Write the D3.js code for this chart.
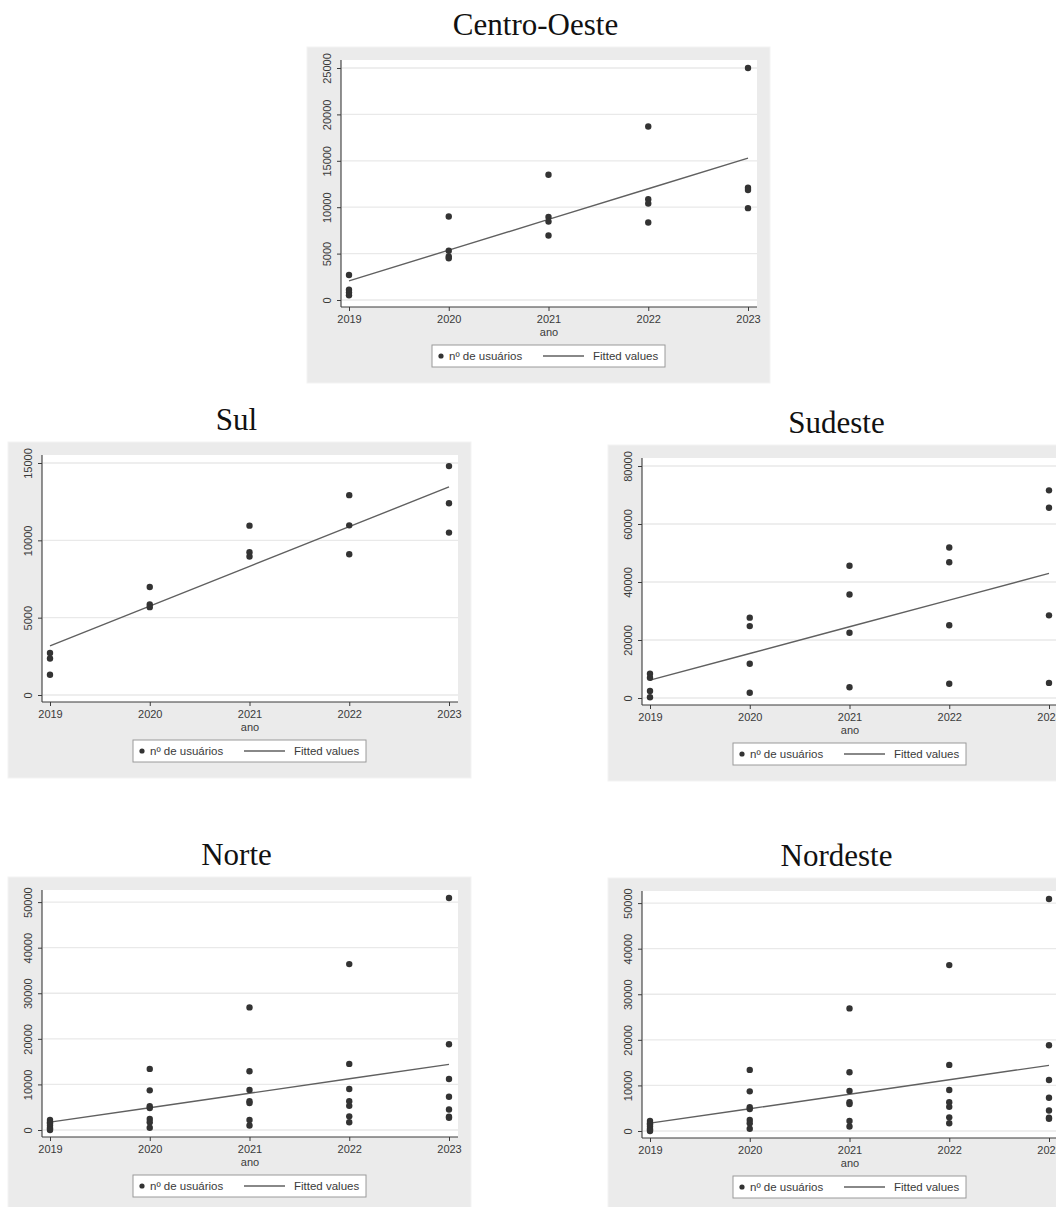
<!DOCTYPE html>
<html>
<head>
<meta charset="utf-8">
<script src="https://cdn.jsdelivr.net/npm/d3@7"></script>
<style>
  html, body { margin: 0; padding: 0; background: #ffffff; }
  svg { display: block; }
</style>
</head>
<body>
<svg id="chart" width="1056" height="1207"></svg>
<script>
// ---------- data ----------
const years = [2019, 2020, 2021, 2022, 2023];
const regionNames = ["Centro-Oeste", "Sul", "Sudeste", "Norte", "Nordeste"];
const xAxisTitle = "ano";
const legendLabels = ["nº de usuários", "Fitted values"];

// users per year (one inner list per year)
const centroOesteUsers = [
  [2700, 1100, 800, 500],
  [9000, 5300, 4700, 4500],
  [13500, 8950, 8450, 6950],
  [18700, 10850, 10400, 8350],
  [25000, 12100, 11850, 9900]
];
const sulUsers = [
  [2720, 2360, 1310],
  [6980, 5850, 5680],
  [10950, 9230, 8950],
  [12920, 10970, 9100],
  [14800, 12400, 10500]
];
const sudesteUsers = [
  [8400, 7000, 2400, 250],
  [27700, 24800, 11800, 1800],
  [45600, 35700, 22500, 3700],
  [51900, 46800, 25100, 4900],
  [71600, 65600, 28500, 5200]
];
const norteUsers = [
  [2200, 1700, 1400, 1000, 500, 200, 0],
  [13400, 8700, 5200, 4800, 2400, 1700, 500],
  [26900, 12900, 8800, 6300, 5900, 2200, 1000],
  [36400, 14500, 9000, 6300, 5300, 3000, 1700],
  [50900, 18800, 11200, 7300, 4500, 2900, 2700]
];
const nordesteUsers = [
  [2200, 1700, 1400, 1000, 500, 200, 0],
  [13400, 8700, 5200, 4800, 2400, 1700, 500],
  [26900, 12900, 8800, 6300, 5900, 2200, 1000],
  [36400, 14500, 9000, 6300, 5300, 3000, 1700],
  [50900, 18800, 11200, 7300, 4500, 2900, 2700]
];

const yTicksCentroOeste = [0, 5000, 10000, 15000, 20000, 25000];
const yTicksSul = [0, 5000, 10000, 15000];
const yTicksSudeste = [0, 20000, 40000, 60000, 80000];
const yTicksNorte = [0, 10000, 20000, 30000, 40000, 50000];
const yTicksNordeste = [0, 10000, 20000, 30000, 40000, 50000];

// ---------- layout ----------
const panels = [
  { name: regionNames[0], users: centroOesteUsers, ticks: yTicksCentroOeste, left: 307, top: 47 },
  { name: regionNames[1], users: sulUsers,         ticks: yTicksSul,         left: 8,   top: 442 },
  { name: regionNames[2], users: sudesteUsers,     ticks: yTicksSudeste,     left: 608, top: 445 },
  { name: regionNames[3], users: norteUsers,       ticks: yTicksNorte,       left: 8,   top: 877 },
  { name: regionNames[4], users: nordesteUsers,    ticks: yTicksNordeste,    left: 608, top: 878 }
];
const PW = 463, PH = 336;

const svg = d3.select("#chart");
const sansFont = "'Liberation Sans', Arial, sans-serif";
const serifFont = "'Liberation Serif', 'Times New Roman', serif";
const ink = "#3a3a3a";

panels.forEach(p => {
  const g = svg.append("g");
  const L = p.left, T = p.top;

  // title
  g.append("text")
    .attr("x", L + PW / 2 - 3).attr("y", T - 12)
    .attr("text-anchor", "middle")
    .attr("font-family", serifFont).attr("font-size", 31)
    .attr("fill", "#111")
    .text(p.name);

  // graph region
  g.append("rect")
    .attr("x", L).attr("y", T).attr("width", PW).attr("height", PH)
    .attr("fill", "#ebebeb").attr("stroke", "#f3f3f3").attr("stroke-width", 1);

  const axisX = L + 34, plotR = L + 450, plotT = T + 13, plotB = T + 260;

  // plot region
  g.append("rect")
    .attr("x", axisX).attr("y", plotT).attr("width", plotR - axisX).attr("height", plotB - plotT)
    .attr("fill", "#ffffff");

  const points = [];
  p.users.forEach((vals, i) => vals.forEach(v => points.push({ x: years[i], y: v })));

  const dataMax = d3.max(points, d => d.y);
  const yTop = Math.max(d3.max(p.ticks), dataMax);
  const x = d3.scaleLinear().domain([years[0], years[years.length - 1]]).range([L + 42, L + 441]);
  const y = d3.scaleLinear().domain([0, yTop]).range([T + 253, T + 21]);

  // gridlines
  g.selectAll(".grid").data(p.ticks).enter().append("line")
    .attr("x1", axisX + 1).attr("x2", plotR)
    .attr("y1", d => y(d)).attr("y2", d => y(d))
    .attr("stroke", "#e9e9e9").attr("stroke-width", 1.3);

  // y axis
  const yAxis = d3.axisLeft(y).tickValues(p.ticks).tickSize(4).tickPadding(5).tickFormat(d3.format("d"));
  const ya = g.append("g").attr("transform", `translate(${axisX},0)`).call(yAxis);
  ya.select(".domain").attr("d", `M0,${plotT}V${plotB}`).attr("stroke", ink).attr("stroke-width", 1.1);
  ya.selectAll(".tick line").attr("stroke", ink);
  ya.selectAll(".tick text")
    .attr("x", null).attr("dy", null)
    .attr("text-anchor", "middle")
    .attr("transform", "translate(-14,0) rotate(-90)")
    .attr("dy", "0.35em")
    .attr("font-family", sansFont).attr("font-size", 11).attr("fill", ink);

  // x axis
  const xAxis = d3.axisBottom(x).tickValues(years).tickSize(4).tickPadding(4).tickFormat(d3.format("d"));
  const xa = g.append("g").attr("transform", `translate(0,${plotB})`).call(xAxis);
  xa.select(".domain").attr("d", `M${axisX},0H${plotR}`).attr("stroke", ink).attr("stroke-width", 1.1);
  xa.selectAll(".tick line").attr("stroke", ink);
  xa.selectAll(".tick text")
    .attr("font-family", sansFont).attr("font-size", 11).attr("fill", ink);

  // axis title
  g.append("text")
    .attr("x", (axisX + plotR) / 2).attr("y", T + 289)
    .attr("text-anchor", "middle")
    .attr("font-family", sansFont).attr("font-size", 11).attr("fill", ink)
    .text(xAxisTitle);

  // fitted values (OLS of users on year)
  const mx = d3.mean(points, d => d.x), my = d3.mean(points, d => d.y);
  const slope = d3.sum(points, d => (d.x - mx) * (d.y - my)) / d3.sum(points, d => (d.x - mx) ** 2);
  const fit = years.map(yr => ({ x: yr, y: my + slope * (yr - mx) }));
  g.append("path")
    .datum(fit)
    .attr("d", d3.line().x(d => x(d.x)).y(d => y(d.y)))
    .attr("fill", "none").attr("stroke", "#606060").attr("stroke-width", 1.4);

  // scatter points
  g.selectAll(".pt").data(points).enter().append("circle")
    .attr("cx", d => x(d.x)).attr("cy", d => y(d.y)).attr("r", 3.2)
    .attr("fill", "#333333");

  // legend
  const lg = g.append("g");
  lg.append("rect")
    .attr("x", L + 125).attr("y", T + 298).attr("width", 233).attr("height", 22)
    .attr("fill", "#ffffff").attr("stroke", "#9a9a9a").attr("stroke-width", 1);
  lg.append("circle").attr("cx", L + 134).attr("cy", T + 309).attr("r", 2.6).attr("fill", "#333");
  lg.append("text").attr("x", L + 142).attr("y", T + 313)
    .attr("font-family", sansFont).attr("font-size", 11.5).attr("fill", ink).text(legendLabels[0]);
  lg.append("line").attr("x1", L + 236).attr("x2", L + 277).attr("y1", T + 309).attr("y2", T + 309)
    .attr("stroke", "#606060").attr("stroke-width", 1.4);
  lg.append("text").attr("x", L + 286).attr("y", T + 313)
    .attr("font-family", sansFont).attr("font-size", 11.5).attr("fill", ink).text(legendLabels[1]);
});
</script>
</body>
</html>
